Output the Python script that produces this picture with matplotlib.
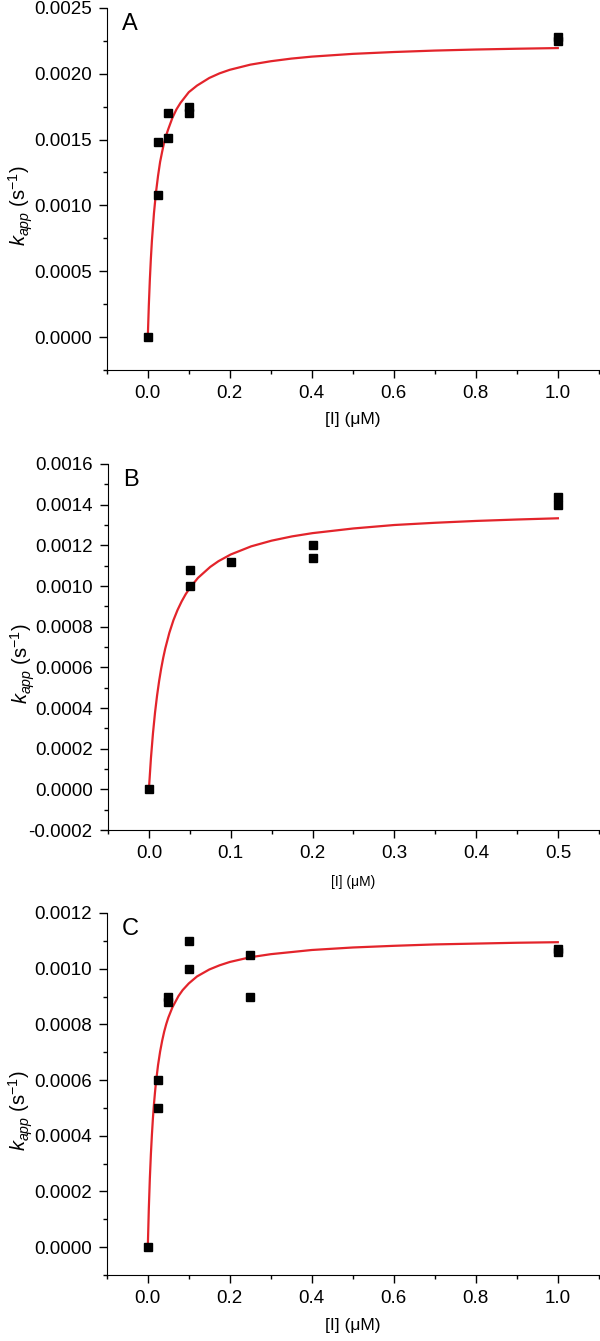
import matplotlib
matplotlib.use("Agg")
import matplotlib.pyplot as plt
from matplotlib.ticker import MultipleLocator, FormatStrFormatter

plt.rcParams['font.family'] = ['Liberation Sans', 'DejaVu Sans']
plt.rcParams['mathtext.fontset'] = 'custom'
plt.rcParams['mathtext.rm'] = 'Liberation Sans'
plt.rcParams['mathtext.it'] = 'Liberation Sans:italic'

# panel A
a_x = [0.0, 0.025, 0.025, 0.05, 0.05, 0.1, 0.1, 1.0, 1.0]
a_y = [0.0, 0.00108, 0.00148, 0.00151, 0.00170, 0.00170, 0.00175, 0.00225, 0.00228]
a_fit_x = [0.0, 0.0025, 0.005, 0.0075, 0.01, 0.015, 0.02, 0.025, 0.03, 0.035, 0.04, 0.045,
           0.05, 0.06, 0.07, 0.08, 0.1, 0.12, 0.15, 0.175, 0.2, 0.25, 0.3, 0.35, 0.4,
           0.5, 0.6, 0.7, 0.8, 0.9, 1.0]
a_fit_y = [0.0, 0.000241, 0.000436, 0.000596, 0.00073, 0.00094, 0.00110, 0.001225, 0.00133,
           0.001408, 0.00148, 0.001534, 0.00158, 0.001665, 0.00173, 0.00178, 0.00186, 0.00191,
           0.001968, 0.002003, 0.00203, 0.002069, 0.002095, 0.002115, 0.00213,
           0.002151, 0.002165, 0.002176, 0.002184, 0.00219, 0.002195]

# panel B
b_x = [0.0, 0.05, 0.05, 0.1, 0.2, 0.2, 0.5, 0.5]
b_y = [0.0, 0.00108, 0.00100, 0.00112, 0.00120, 0.00114, 0.00144, 0.00140]
b_fit_x = [0.0, 0.0025, 0.005, 0.0075, 0.01, 0.0125, 0.015, 0.0175, 0.02, 0.025, 0.03, 0.035,
           0.04, 0.045, 0.05, 0.06, 0.075, 0.085, 0.1, 0.125, 0.15, 0.175, 0.2, 0.25, 0.3,
           0.35, 0.4, 0.45, 0.5]
b_fit_y = [0.0, 0.000154, 0.000277, 0.000378, 0.000462, 0.000533, 0.000594, 0.000647, 0.000693,
           0.00077, 0.000832, 0.000882, 0.000924, 0.00096, 0.00099, 0.00104, 0.001094, 0.001122,
           0.001155, 0.001195, 0.001223, 0.001244, 0.00126, 0.001283, 0.00130,
           0.001311, 0.00132, 0.001327, 0.001333]

# panel C
c_x = [0.0, 0.025, 0.025, 0.05, 0.05, 0.1, 0.1, 0.25, 0.25, 1.0, 1.0]
c_y = [0.0, 0.00060, 0.00050, 0.00090, 0.00088, 0.00110, 0.00100, 0.00105, 0.00090, 0.00106, 0.00107]
c_fit_x = [0.0, 0.0025, 0.005, 0.0075, 0.01, 0.0125, 0.015, 0.0175, 0.02, 0.025, 0.03, 0.035,
           0.04, 0.045, 0.05, 0.06, 0.075, 0.085, 0.1, 0.12, 0.15, 0.175, 0.2, 0.25, 0.3,
           0.4, 0.5, 0.6, 0.7, 0.8, 0.9, 1.0]
c_fit_y = [0.0, 0.000139, 0.000247, 0.000333, 0.000403, 0.000463, 0.000513, 0.000555, 0.000593,
           0.000654, 0.000702, 0.000741, 0.000774, 0.000801, 0.000824, 0.000861, 0.000902,
           0.000923, 0.000947, 0.000972, 0.000997, 0.001012, 0.001024, 0.001041, 0.001052,
           0.001067, 0.001076, 0.001082, 0.001087, 0.00109, 0.001093, 0.001095]

fig = plt.figure(figsize=(6, 13.41), dpi=100)

panels = [
    # letter, rect, xs, ys, fx, fy, xlim, ylim, xmaj, xmin, ymaj, ymin, xlabel size, labelpad
    ("A", [0.178, 0.7241, 0.82, 0.270], a_x, a_y, a_fit_x, a_fit_y,
     (-0.1, 1.1), (-0.00025, 0.0025), 0.2, 0.1, 0.0005, 0.00025, 12.5, 7),
    ("B", [0.180, 0.3810, 0.818, 0.273], b_x, b_y, b_fit_x, b_fit_y,
     (-0.05, 0.55), (-0.0002, 0.0016), 0.1, 0.05, 0.0002, 0.0001, 10, 9),
    ("C", [0.178, 0.0492, 0.82, 0.270], c_x, c_y, c_fit_x, c_fit_y,
     (-0.1, 1.1), (-0.0001, 0.0012), 0.2, 0.1, 0.0002, 0.0001, 12.5, 8),
]

for (letter, rect, xs, ys, fx, fy, xlim, ylim,
     xmaj, xmin, ymaj, ymin, xls, lpad) in panels:
    ax = fig.add_axes(rect)
    ax.plot(fx, fy, color='#e3242b', lw=1.6, zorder=2)
    ax.plot(xs, ys, 's', color='black', ms=6, zorder=3)
    ax.set_xlim(*xlim)
    ax.set_ylim(*ylim)
    ax.spines['top'].set_visible(False)
    ax.spines['right'].set_visible(False)
    ax.xaxis.set_major_locator(MultipleLocator(xmaj))
    ax.xaxis.set_minor_locator(MultipleLocator(xmin))
    ax.yaxis.set_major_locator(MultipleLocator(ymaj))
    ax.yaxis.set_minor_locator(MultipleLocator(ymin))
    ax.xaxis.set_major_formatter(FormatStrFormatter('%.1f'))
    ax.yaxis.set_major_formatter(FormatStrFormatter('%.4f'))
    ax.tick_params(which='major', direction='out', length=6, width=1, labelsize=13.5, pad=5)
    ax.tick_params(which='minor', direction='out', length=3, width=1)
    ax.set_xlabel('[I] (μM)', fontsize=xls, labelpad=lpad)
    ax.set_ylabel(r'$k_{app}$ (s$^{-1}$)', fontsize=14.5)
    # same label column in every panel, slightly over the tick labels as in the source
    ax.yaxis.set_label_coords(-0.145, 0.455, transform=ax.transAxes)
    ax.text(0.03, 0.985, letter, transform=ax.transAxes, fontsize=17,
            ha='left', va='top')

fig.savefig('out.png', dpi=100)
